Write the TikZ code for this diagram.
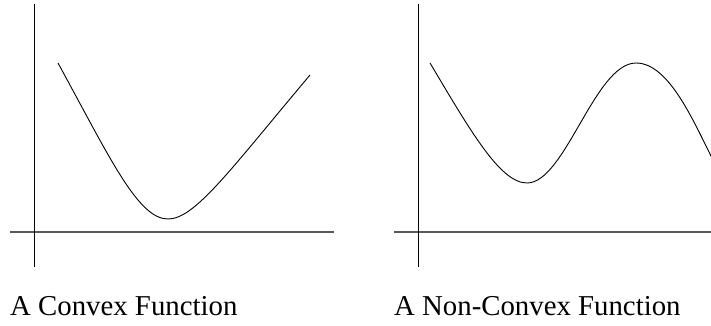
\documentclass[tikz,border=0pt]{standalone}
\usepackage{fontspec}
\setmainfont{Liberation Serif}
\begin{document}
\begin{tikzpicture}[x=1pt,y=-1pt,
  axis/.style={line width=0.9pt,black},
  haxis/.style={line width=1.3pt,black!65},
  curve/.style={line width=0.9pt,black},
  caption/.style={anchor=base west,inner sep=0pt,font=\fontsize{28.8}{32}\selectfont}]
\useasboundingbox (0,0) rectangle (711,325);
\clip (0,0) rectangle (711,325);
% left panel
\coordinate (lyt) at (34,4);
\coordinate (lyb) at (34,267);
\coordinate (lxl) at (10,232);
\coordinate (lxr) at (334,232);
\draw[haxis] (lxl) -- (lxr);
\draw[axis] (lyt) -- (lyb);
\coordinate (c0) at (58,63);
\coordinate (c1) at (168,219);
\coordinate (c2) at (310,75);
\draw[curve] (c0) .. controls (110,158) and (138,219) .. (c1)
  .. controls (195,219) and (230,170) .. (c2);
\node[caption] (capL) at (10,315) {A Convex Function};
% right panel
\coordinate (ryt) at (418,4);
\coordinate (ryb) at (418,267);
\coordinate (rxl) at (394,232);
\coordinate (rxr) at (711,232);
\draw[haxis] (rxl) -- (rxr);
\draw[axis] (ryt) -- (ryb);
\coordinate (n0) at (430,63);
\coordinate (n1) at (527,183);
\coordinate (n2) at (636,63);
\coordinate (n3) at (716,166);
\draw[curve] (n0) .. controls (470,130) and (500,183) .. (n1)
  .. controls (565,183) and (595,63) .. (n2)
  .. controls (670,63) and (695,125) .. (n3);
\node[caption] (capR) at (394,315) {A Non-Convex Function};
\end{tikzpicture}
\end{document}
